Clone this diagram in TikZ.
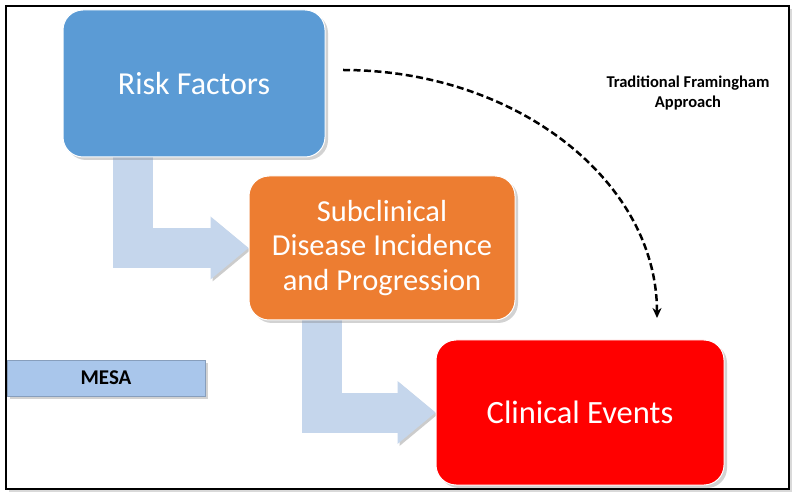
\documentclass[tikz,border=0pt]{standalone}
\usepackage{fontspec}
\setmainfont{Carlito}
\usetikzlibrary{arrows.meta,shadows,backgrounds}

\definecolor{riskblue}{HTML}{5B9BD5}
\definecolor{suborange}{HTML}{ED7D31}
\definecolor{clinred}{HTML}{FF0000}
\definecolor{flowblue}{HTML}{C5D6EC}
\definecolor{mesablue}{HTML}{A9C6EB}

\tikzset{
  stagebox/.style={rounded corners=20pt, draw=white, line width=1pt, text=white,
    align=center, font=\fontsize{30.5}{34.5}\selectfont,
    drop shadow={opacity=0.35, shadow xshift=3pt, shadow yshift=-3pt}},
  flowarrow/.style={draw=flowblue, line width=40pt,
    -{Triangle[length=38pt,width=63pt,line width=0pt]},
    preaction={draw=black, opacity=0.2, transform canvas={xshift=2pt,yshift=-2pt}}},
  approach/.style={line width=2.5pt, dash pattern=on 7pt off 3.5pt,
    -{Stealth[length=10pt,width=9pt]}}
}

\begin{document}
\begin{tikzpicture}[x=1pt,y=-1pt]
\useasboundingbox (0,0) rectangle (800,502);

% the three stages
\node[stagebox, fill=riskblue, minimum width=262pt, minimum height=147pt,
  font=\fontsize{32}{36}\selectfont] (risk) at (194,83.5) {Risk Factors};
\node[stagebox, fill=suborange, minimum width=266pt, minimum height=144pt] (sub) at (382,248) {Subclinical\\Disease Incidence\\and Progression};
\node[stagebox, fill=clinred, minimum width=288pt, minimum height=145pt,
  font=\fontsize{32.5}{36}\selectfont] (clin) at (580,412.5) {Clinical Events};

\node[fill=mesablue, draw=mesablue!80!black, line width=0.4pt, minimum width=198pt, minimum height=36pt,
  font=\bfseries\fontsize{21}{24}\selectfont,
  drop shadow={opacity=0.35, shadow xshift=3pt, shadow yshift=-3pt}] (mesa) at (106,378) {MESA};

\node[font=\bfseries\fontsize{16.5}{19.5}\selectfont, align=center] (trad) at (688,93) {Traditional Framingham\\Approach};

\coordinate (fstart) at (343,70);
\coordinate (fend) at (657,318);
\draw[approach] (fstart) .. controls (516,70) and (657,181) .. (fend);

\begin{pgfonlayer}{background}
\draw[fill=white, line width=1.5pt, drop shadow={opacity=0.3, shadow xshift=3pt, shadow yshift=-3pt}] (6,6) rectangle (789,489);
\draw[flowarrow] ([xshift=-61pt]risk.south) |- (sub.west);
\draw[flowarrow] ([xshift=-60pt]sub.south) |- (clin.west);
\end{pgfonlayer}
\end{tikzpicture}
\end{document}
